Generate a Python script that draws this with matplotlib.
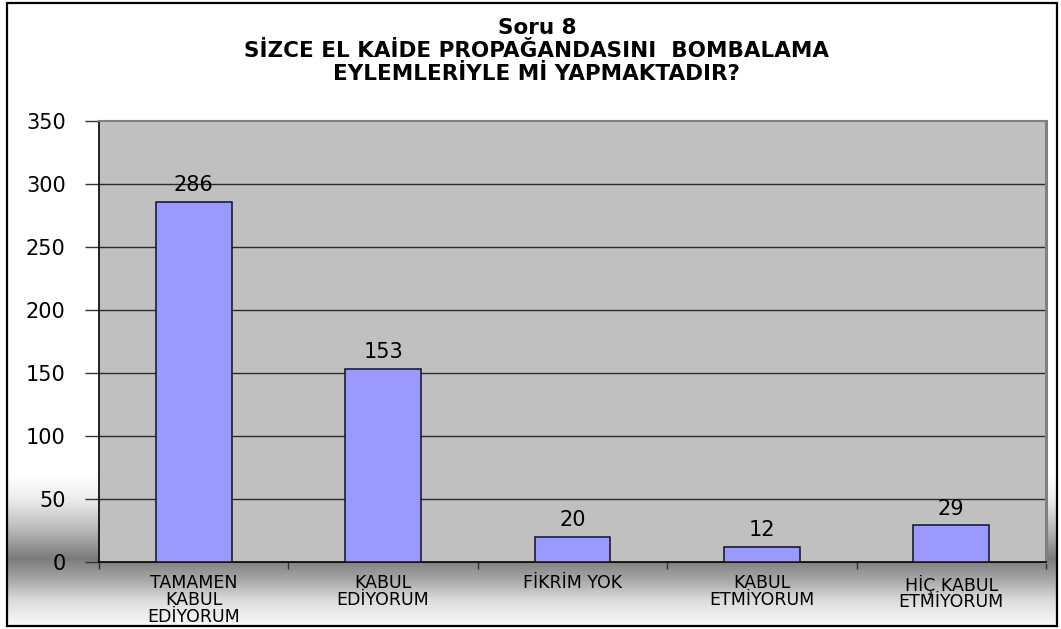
import numpy as np
import matplotlib
matplotlib.use("Agg")
import matplotlib.pyplot as plt
from matplotlib.patches import Rectangle

categories = ["TAMAMEN\nKABUL\nEDİYORUM", "KABUL\nEDİYORUM", "FİKRİM YOK",
              "KABUL\nETMİYORUM", "HİÇ KABUL\nETMİYORUM"]
values = [286, 153, 20, 12, 29]
yticks = [0, 50, 100, 150, 200, 250, 300, 350]
title = "Soru 8\nSİZCE EL KAİDE PROPAĞANDASINI  BOMBALAMA\nEYLEMLERİYLE Mİ YAPMAKTADIR?"

W, H = 1061, 629
fig = plt.figure(figsize=(W / 100, H / 100), dpi=100)
fig.patch.set_facecolor("white")

# background gradient (white -> dark grey band -> white at the bottom)
bg = fig.add_axes([0, 0, 1, 1], zorder=-10)
bg.set_xlim(0, W)
bg.set_ylim(H, 0)
bg.axis("off")
ys = np.arange(H)
kp_y = [0, 475, 500, 530, 558, 580, 600, 628]
kp_v = [1.0, 1.0, 0.92, 0.72, 0.48, 0.66, 0.86, 0.99]
col = np.interp(ys, kp_y, kp_v)
img = np.repeat(col[:, None], 2, axis=1)
bg.imshow(img, cmap="gray", vmin=0, vmax=1, extent=[7, 1057, H, 0],
          aspect="auto", interpolation="bilinear")
bg.add_patch(Rectangle((7, 3), 1050, 623, fill=False, edgecolor="black", lw=1.6))

fs_family = ["DejaVu Sans"]

fig.text(0.506, 1 - 51 / H, title, ha="center", va="center", fontsize=15.5,
         fontweight="bold", family=fs_family, linespacing=1.2)

ax = fig.add_axes([99 / W, 1 - 562 / H, (1046 - 99) / W, (562 - 121) / H])
ax.set_facecolor("#C0C0C0")
x = np.arange(len(values))
bars = ax.bar(x, values, width=0.4, color="#9999FF", edgecolor="#111122",
              linewidth=1.1, zorder=3)
ax.set_xlim(-0.5, len(values) - 0.5)
ax.set_ylim(0, 350)
ax.set_yticks(yticks)
ax.set_yticklabels([str(v) for v in yticks], fontsize=15, family=fs_family)
for v in yticks[1:-1]:
    ax.axhline(v, color="#2a2a2a", lw=1.0, zorder=1)
ax.tick_params(axis="y", length=10, width=1, color="#333333", pad=14)

ax.set_xticks(x)
ax.set_xticklabels(categories, fontsize=12.5, family=fs_family, linespacing=0.9,
                   va="top")
ax.tick_params(axis="x", which="major", length=0, pad=9)
ax.set_xticks(np.arange(-0.5, len(values), 1.0), minor=True)
ax.tick_params(axis="x", which="minor", length=5, width=1, color="#333333")

for s in ["left", "bottom"]:
    ax.spines[s].set_color("black")
    ax.spines[s].set_linewidth(1.2)
ax.spines["top"].set_color("#808080")
ax.spines["top"].set_linewidth(1.5)
ax.spines["right"].set_color("#808080")
ax.spines["right"].set_linewidth(2.2)

for b, v in zip(bars, values):
    ax.annotate(str(v), (b.get_x() + b.get_width() / 2, v), xytext=(0, 5),
                textcoords="offset points", ha="center", va="bottom",
                fontsize=15, family=fs_family, zorder=4)

fig.savefig("out.png", dpi=100)
